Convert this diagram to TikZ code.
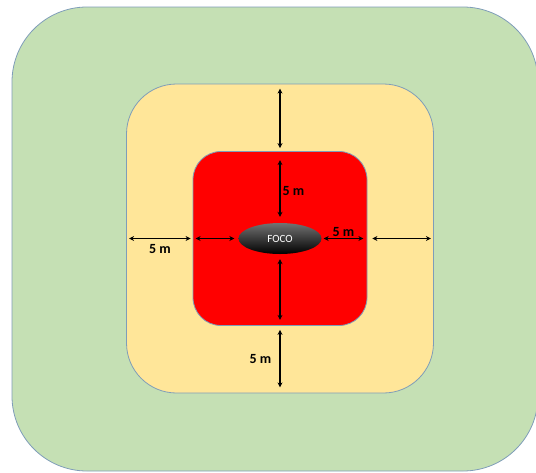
\documentclass[tikz,border=0pt]{standalone}
\usepackage{fontspec}
\setmainfont{Carlito}
\definecolor{verde}{HTML}{C5E0B4}
\definecolor{amarillo}{HTML}{FFE699}
\definecolor{rojo}{HTML}{FF0000}
\definecolor{borde}{HTML}{7F9DB9}
\usetikzlibrary{positioning,arrows.meta,shapes.geometric}

\begin{document}
\begin{tikzpicture}[
    x=1pt, y=-1pt,
    zona/.style={rectangle, draw=borde, line width=0.8pt, inner sep=0pt},
    foco/.style={ellipse, minimum width=83pt, minimum height=31pt, inner sep=0pt,
      top color=black!55, middle color=black, bottom color=black,
      text=white, font=\fontsize{11}{13}\selectfont},
    cota/.style={{Stealth[length=5pt,width=5pt]}-{Stealth[length=5pt,width=5pt]},
      line width=1.4pt},
    etiqueta/.style={font=\fontsize{14}{16}\selectfont\bfseries, inner sep=2pt}
  ]
    \useasboundingbox (0,0) rectangle (536,472);
    \clip (0,0) rectangle (536,472);

    % zonas
    \node[zona, fill=verde, rounded corners=75pt,
      minimum width=526pt, minimum height=464pt] (verde) at (275,239) {};
    \node[zona, fill=amarillo, rounded corners=50pt,
      minimum width=307pt, minimum height=309pt] (amarilla) at (280,238.5) {};
    \node[zona, fill=rojo, rounded corners=28pt,
      minimum width=174pt, minimum height=174pt] (roja) at (280,238.5) {};
    \node[foco] (foco) at (280,238.5) {FOCO};

    % cotas
    \draw[cota] ([yshift=-5pt]amarilla.north) -- ([yshift=3pt]roja.north);
    \draw[cota] ([yshift=-9pt]roja.north) -- ([yshift=6pt]foco.north)
      node[etiqueta, pos=0.55, right] {5 m};
    \draw[cota] ([xshift=3pt]amarilla.west) -- ([xshift=-2pt]roja.west)
      node[etiqueta, midway, below=3pt] {5 m};
    \draw[cota] ([xshift=3pt]roja.west) -- ([xshift=-4pt]foco.west);
    \draw[cota] ([xshift=2pt]foco.east) -- ([xshift=-4pt]roja.east)
      node[etiqueta, midway, above=-1pt] {5 m};
    \draw[cota] ([xshift=5pt]roja.east) -- ([xshift=-3pt]amarilla.east);
    \draw[cota] ([yshift=-5pt]foco.south) -- ([yshift=6pt]roja.south);
    \draw[cota] ([yshift=-4pt]roja.south) -- ([yshift=6pt]amarilla.south)
      node[etiqueta, midway, left=6pt] {5 m};
\end{tikzpicture}
\end{document}
